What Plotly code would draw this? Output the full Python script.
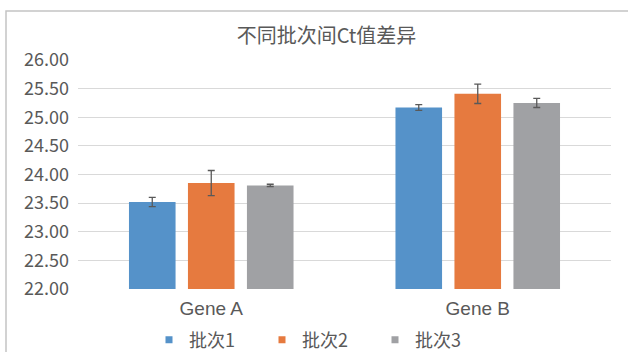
import plotly.graph_objects as go

# Ct values per gene for each batch, with error bar half-widths
genes = ["Gene A", "Gene B"]
batches = ["批次1", "批次2", "批次3"]
ct_means = {
    "批次1": [23.52, 25.17],
    "批次2": [23.85, 25.41],
    "批次3": [23.81, 25.25],
}
ct_errors = {
    "批次1": [0.08, 0.05],
    "批次2": [0.22, 0.17],
    "批次3": [0.02, 0.08],
}
colors = {"批次1": "#5592C9", "批次2": "#E67A3F", "批次3": "#A0A1A4"}
y_ticks = [22.0, 22.5, 23.0, 23.5, 24.0, 24.5, 25.0, 25.5, 26.0]

CJK = "Noto Sans CJK SC"
LATIN = "Liberation Sans"
TEXT = "#595959"

fig = go.Figure()
for b in batches:
    fig.add_trace(go.Bar(
        name=b, legendgroup=b, showlegend=False,
        x=genes, y=ct_means[b],
        marker=dict(color=colors[b], line=dict(width=0)),
        error_y=dict(type="data", array=ct_errors[b], visible=True,
                     color="#595959", thickness=1.3, width=3.5),
    ))
    # small square swatch for the legend entry
    fig.add_trace(go.Scatter(
        name=b, legendgroup=b, showlegend=True,
        x=[None], y=[None], mode="markers",
        marker=dict(symbol="square", size=7, color=colors[b]),
    ))

W, H = 628, 352
L, R, T, B = 78, 17, 60, 63
pw, ph = W - L - R, H - T - B


def px_x(x):
    return (x - L) / pw


def px_y(y):
    return (H - B - y) / ph


fig.update_layout(
    width=W, height=H,
    margin=dict(l=L, r=R, t=T, b=B, autoexpand=False),
    paper_bgcolor="white", plot_bgcolor="white",
    barmode="group", bargap=0.336, bargroupgap=0.21,
    font=dict(family=CJK, color=TEXT, size=18),
    title=dict(text="不同批次间Ct值差异", x=326.5 / W, xref="container",
               xanchor="center", y=1 - 35.5 / H, yref="container",
               yanchor="middle",
               font=dict(family=CJK, size=20, color=TEXT)),
    xaxis=dict(showgrid=False, showline=False, ticks="", zeroline=False,
               automargin=False, ticklabelstandoff=6,
               tickfont=dict(family=LATIN, size=19, color=TEXT)),
    yaxis=dict(range=[22, 26], tickvals=y_ticks,
               ticktext=[f"{v:.2f}" for v in y_ticks],
               showgrid=True, gridcolor="#D9D9D9", gridwidth=1,
               zeroline=False, showline=False, ticks="", automargin=False,
               ticklabelstandoff=8,
               tickfont=dict(family=CJK, size=18, color=TEXT)),
    legend=dict(orientation="h", x=149 / W, xref="container", xanchor="left",
                y=1 - 340 / H, yref="container", yanchor="middle",
                font=dict(family=CJK, size=18, color=TEXT),
                itemwidth=30, entrywidth=68, traceorder="normal",
                bgcolor="rgba(0,0,0,0)"),
    showlegend=True,
    shapes=[dict(type="rect", xref="paper", yref="paper",
                 x0=px_x(6), x1=px_x(640), y0=px_y(370), y1=px_y(11),
                 line=dict(color="#C4C4C4", width=1.5),
                 fillcolor="rgba(0,0,0,0)", layer="below")],
)

fig.write_html("out.html")
